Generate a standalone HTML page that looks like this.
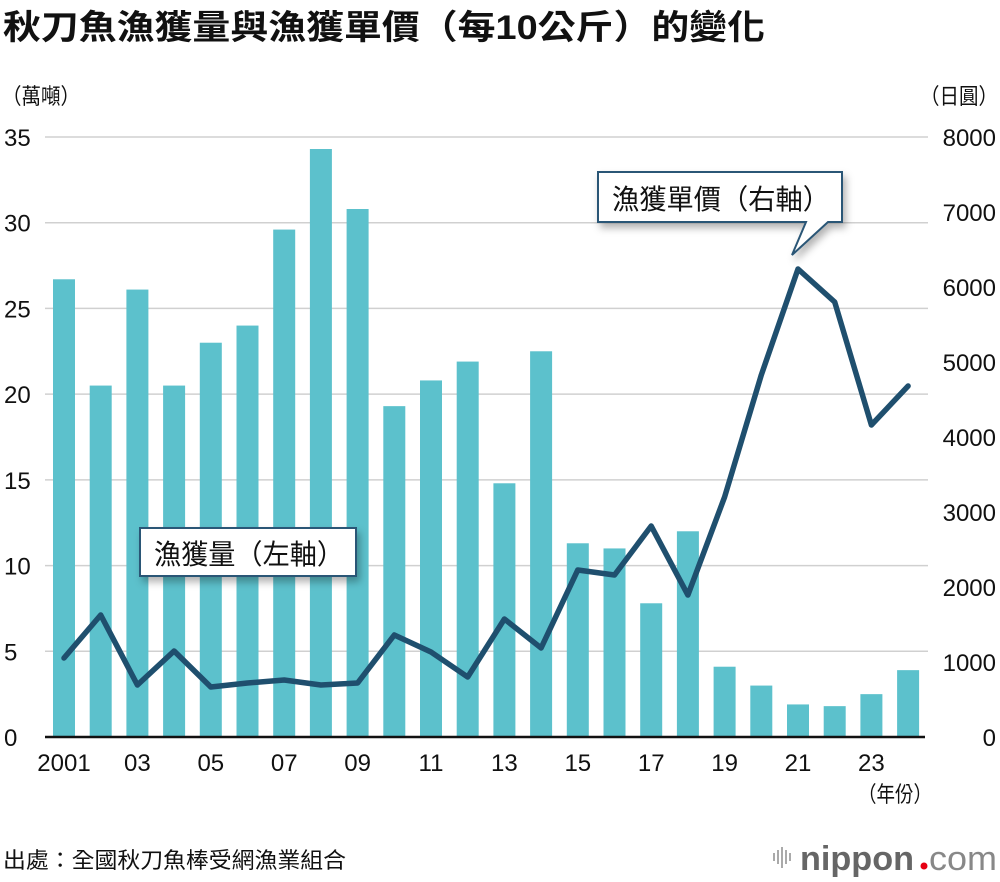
<!DOCTYPE html>
<html><head><meta charset="utf-8">
<style>
body{margin:0;background:#fff;}
svg{display:block;font-family:"Liberation Sans","Noto Sans CJK TC",sans-serif;}
</style></head>
<body>
<svg id="chart" width="1000" height="882" viewBox="0 0 1000 882">
<defs>
<filter id="sh" x="-20%" y="-20%" width="150%" height="170%"><feDropShadow dx="3" dy="5" stdDeviation="4" flood-color="#000" flood-opacity="0.3"/></filter>
</defs>
<text x="3" y="39" font-size="34" font-weight="bold" fill="#111" textLength="762" lengthAdjust="spacingAndGlyphs">秋刀魚漁獲量與漁獲單價（每10公斤）的變化</text>
<text x="2" y="104" font-size="22" fill="#111" textLength="78" lengthAdjust="spacingAndGlyphs">（萬噸）</text>
<text x="920" y="104" font-size="22" fill="#111" textLength="78" lengthAdjust="spacingAndGlyphs">（日圓）</text>
<g id="grid"></g>
<g id="bars"></g>
<g id="line"></g>
<g id="axes"></g>
<text x="858" y="802" font-size="22" fill="#111" textLength="74" lengthAdjust="spacingAndGlyphs">（年份）</text>
<g>
<path d="M598,172 H842 V222 H828 L792,255 L806,222 H598 Z" fill="#fff" stroke="#2a5676" stroke-width="2" filter="url(#sh)"/>
<text x="612" y="209" font-size="28" fill="#111" textLength="218" lengthAdjust="spacingAndGlyphs">漁獲單價（右軸）</text>
</g>
<g>
<rect x="140" y="528" width="216" height="48" fill="#fff" stroke="#2a5676" stroke-width="2" filter="url(#sh)"/>
<text x="154" y="564" font-size="28" fill="#111" textLength="190" lengthAdjust="spacingAndGlyphs">漁獲量（左軸）</text>
</g>
<text x="3" y="868" font-size="22" fill="#111" textLength="343" lengthAdjust="spacingAndGlyphs">出處：全國秋刀魚棒受網漁業組合</text>
<g>
<g stroke="#aaa" stroke-width="2">
<line x1="774" y1="853" x2="774" y2="861"/><line x1="778" y1="850" x2="778" y2="864"/><line x1="782" y1="847" x2="782" y2="868"/><line x1="786" y1="850" x2="786" y2="864"/><line x1="790" y1="853" x2="790" y2="861"/>
</g>
<text x="800" y="870" font-size="34" font-weight="bold" fill="#666" textLength="114" lengthAdjust="spacingAndGlyphs">nippon</text>
<circle cx="924" cy="866" r="3.5" fill="#e60012"/>
<text x="929" y="870" font-size="34" fill="#888" textLength="68" lengthAdjust="spacingAndGlyphs">com</text>
</g>
</svg>
<script>
const years=["2001","02","03","04","05","06","07","08","09","10","11","12","13","14","15","16","17","18","19","20","21","22","23","24"];
const catchVals=[26.7,20.5,26.1,20.5,23.0,24.0,29.6,34.3,30.8,19.3,20.8,21.9,14.8,22.5,11.3,11.0,7.8,12.0,4.1,3.0,1.9,1.8,2.5,3.9];
const priceVals=[1053,1627,693,1147,667,720,760,693,720,1360,1133,800,1573,1187,2227,2160,2813,1893,3200,4827,6240,5800,4160,4680];
const leftTicks=[0,5,10,15,20,25,30,35];
const rightTicks=[0,1000,2000,3000,4000,5000,6000,7000,8000];
const xLabelIdx=[0,2,4,6,8,10,12,14,16,18,20,22];
const xLabelText=["2001","03","05","07","09","11","13","15","17","19","21","23"];

const NS="http://www.w3.org/2000/svg";
const y0=737,y1=137;
const yL=v=>y0-(v/35)*(y0-y1);
const yR=v=>y0-(v/8000)*(y0-y1);
const xC=i=>64+i*36.7;
function mk(tag,attrs,parent,txt){const e=document.createElementNS(NS,tag);for(const k in attrs)e.setAttribute(k,attrs[k]);if(txt!==undefined)e.textContent=txt;parent.appendChild(e);return e;}
const grid=document.getElementById('grid'),bars=document.getElementById('bars'),line=document.getElementById('line'),axes=document.getElementById('axes');
leftTicks.forEach(t=>{
  if(t>0){const g=mk('line',{x1:45,x2:928,y1:yL(t),y2:yL(t),stroke:'#d0d0d0','stroke-width':1.5},grid);
  
  }
  const l=mk('text',{x:4,y:yL(t)+9,'font-size':24,fill:'#111'},axes,t);
  
  
});
rightTicks.forEach(t=>{
  const l=mk('text',{x:996,y:yR(t)+9,'font-size':24,fill:'#111','text-anchor':'end'},axes,t);
  
  
});
catchVals.forEach((v,i)=>{
  const b=mk('rect',{x:xC(i)-11,y:yL(v),width:22,height:y0-yL(v),fill:'#5cc1cc'},bars);
  
  
});
const ax=mk('line',{x1:45,x2:925,y1:y0,y2:y0,stroke:'#111','stroke-width':2.5},axes);


xLabelIdx.forEach((idx,k)=>{
  const l=mk('text',{x:xC(idx),y:771,'font-size':24,fill:'#111','text-anchor':'middle'},axes,xLabelText[k]);
  
  
});
const pts=priceVals.map((v,i)=>xC(i)+','+yR(v)).join(' ');
const pl=mk('polyline',{points:pts,fill:'none',stroke:'#1f4f6e','stroke-width':5.5,'stroke-linejoin':'round','stroke-linecap':'round'},line);


</script>
</body></html>
